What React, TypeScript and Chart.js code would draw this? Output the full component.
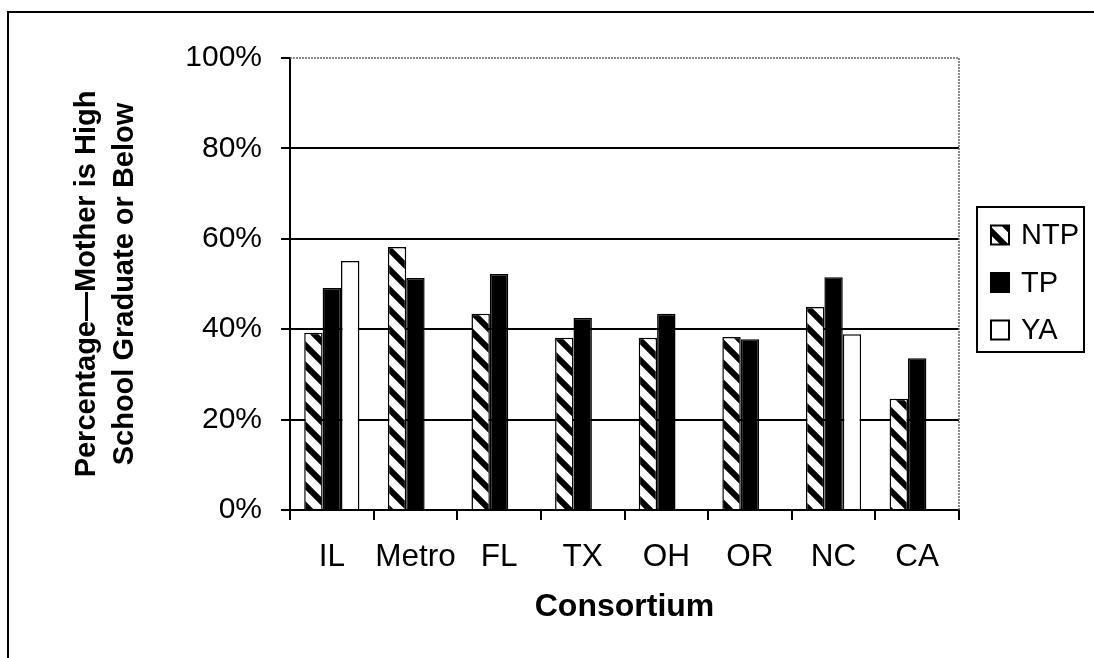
import React, { useEffect, useRef } from 'react';
import { Chart, registerables } from 'chart.js';

Chart.register(...registerables);

const categories = ['IL', 'Metro', 'FL', 'TX', 'OH', 'OR', 'NC', 'CA'];
const seriesNames = ['NTP', 'TP', 'YA'];
const ntpValues = [39.2, 58.2, 43.4, 38.1, 38.1, 38.3, 44.9, 24.6];
const tpValues = [49.1, 51.3, 52.2, 42.5, 43.4, 37.8, 51.5, 33.6];
const yaValues: (number | null)[] = [55.1, null, null, null, null, null, 38.9, null];
const yMin = 0;
const yMax = 100;
const yStep = 20;
const xTitle = 'Consortium';
const yTitle = ['Percentage\u2014Mother is High', 'School Graduate or Below'];

const FAMILY = "'Liberation Sans', Arial, sans-serif";

function makeHatch(): CanvasPattern | string {
  const c = document.createElement('canvas');
  c.width = 20;
  c.height = 20;
  const g = c.getContext('2d');
  if (!g) return '#000';
  g.fillStyle = '#fff';
  g.fillRect(0, 0, 20, 20);
  g.strokeStyle = '#000';
  g.lineWidth = 6;
  g.lineCap = 'square';
  for (let k = -1; k <= 1; k++) {
    g.beginPath();
    g.moveTo(-5, -5 + 20 * k);
    g.lineTo(25, 25 + 20 * k);
    g.stroke();
  }
  const p = g.createPattern(c, 'repeat');
  return p || '#000';
}

const framePlugin = {
  id: 'frameAndLegend',
  beforeDraw(chart: any) {
    const ctx = chart.ctx;
    ctx.save();
    ctx.fillStyle = '#fff';
    ctx.fillRect(0, 0, chart.width, chart.height);
    ctx.strokeStyle = '#000';
    ctx.lineWidth = 2;
    ctx.beginPath();
    ctx.moveTo(8, chart.height);
    ctx.lineTo(8, 12);
    ctx.lineTo(chart.width, 12);
    ctx.stroke();
    ctx.restore();
  },
  afterDraw(chart: any) {
    const ctx = chart.ctx;
    const a = chart.chartArea;
    ctx.save();
    // dotted plot border (top and right)
    ctx.strokeStyle = '#666';
    ctx.lineWidth = 1.5;
    ctx.setLineDash([2, 1]);
    ctx.beginPath();
    ctx.moveTo(a.left, a.top);
    ctx.lineTo(a.right, a.top);
    ctx.lineTo(a.right, a.bottom);
    ctx.stroke();
    ctx.setLineDash([]);

    // legend
    const ds = chart.data.datasets;
    const boxLeft = a.right + 18;
    const boxRight = boxLeft + 107;
    const mid = (a.top + a.bottom) / 2 - 4.5;
    const boxTop = mid - 72.5;
    const boxBottom = mid + 72.5;
    ctx.strokeStyle = '#000';
    ctx.lineWidth = 2;
    ctx.strokeRect(boxLeft, boxTop, boxRight - boxLeft, boxBottom - boxTop);
    ctx.font = `29px ${FAMILY}`;
    ctx.textBaseline = 'middle';
    ctx.textAlign = 'left';
    ds.forEach((d: any, i: number) => {
      const cy = boxTop + 28 + i * 47.5;
      const sx = boxLeft + 14;
      ctx.fillStyle = d.backgroundColor;
      ctx.fillRect(sx, cy - 9.5, 18, 19);
      ctx.strokeStyle = '#000';
      ctx.lineWidth = 2;
      ctx.strokeRect(sx, cy - 9.5, 18, 19);
      ctx.fillStyle = '#000';
      ctx.fillText(d.label, sx + 30, cy + 1);
    });
    ctx.restore();
  },
};

export default function App() {
  const ref = useRef<HTMLCanvasElement | null>(null);

  useEffect(() => {
    if (!ref.current) return;
    const hatch = makeHatch();
    const common = {
      borderColor: '#000',
      borderWidth: 1.5,
      barPercentage: 1,
      categoryPercentage: 0.66,
    };
    const chart = new Chart(ref.current, {
      type: 'bar',
      data: {
        labels: categories,
        datasets: [
          { label: seriesNames[0], data: ntpValues, backgroundColor: hatch as any, ...common },
          { label: seriesNames[1], data: tpValues, backgroundColor: '#000', ...common },
          { label: seriesNames[2], data: yaValues as any, backgroundColor: '#fff', ...common },
        ],
      },
      options: {
        responsive: false,
        animation: false,
        devicePixelRatio: 1,
        layout: { padding: { left: 0, top: 58, right: 135, bottom: 0 } },
        plugins: {
          legend: { display: false },
          tooltip: { enabled: false },
        },
        scales: {
          x: {
            offset: true,
            grid: {
              offset: true,
              drawOnChartArea: false,
              drawTicks: true,
              tickLength: 10,
              color: '#000',
              lineWidth: 2,
            },
            border: { display: true, color: '#000', width: 2 },
            ticks: {
              color: '#000',
              font: { size: 31.5, family: FAMILY },
              padding: 18,
              maxRotation: 0,
              autoSkip: false,
            },
            title: {
              display: true,
              text: xTitle,
              color: '#000',
              font: { size: 32, weight: 'bold', family: FAMILY },
              padding: { top: 0, bottom: 32 },
            },
            afterFit: (s: any) => {
              s.height = 148;
            },
          },
          y: {
            min: yMin,
            max: yMax,
            ticks: {
              stepSize: yStep,
              callback: (v: any) => v + '%',
              color: '#000',
              font: { size: 30, family: FAMILY },
              padding: 19,
            },
            grid: {
              color: (c: any) => (c.tick && c.tick.value === yMax ? 'rgba(0,0,0,0)' : '#000'),
              tickColor: '#000',
              lineWidth: 2,
              tickLength: 9,
            },
            border: { color: '#000', width: 2 },
            title: {
              display: true,
              text: yTitle,
              color: '#000',
              font: { size: 29, weight: 'bold', family: FAMILY, lineHeight: 1.3 },
              padding: { top: 68, bottom: 0 },
            },
            afterFit: (s: any) => {
              s.width = 290;
            },
          },
        },
      } as any,
      plugins: [framePlugin],
    });
    return () => chart.destroy();
  }, []);

  return (
    <div style={{ position: 'absolute', left: 0, top: 0, width: 1094, height: 658 }}>
      <canvas ref={ref} width={1094} height={658} />
    </div>
  );
}
